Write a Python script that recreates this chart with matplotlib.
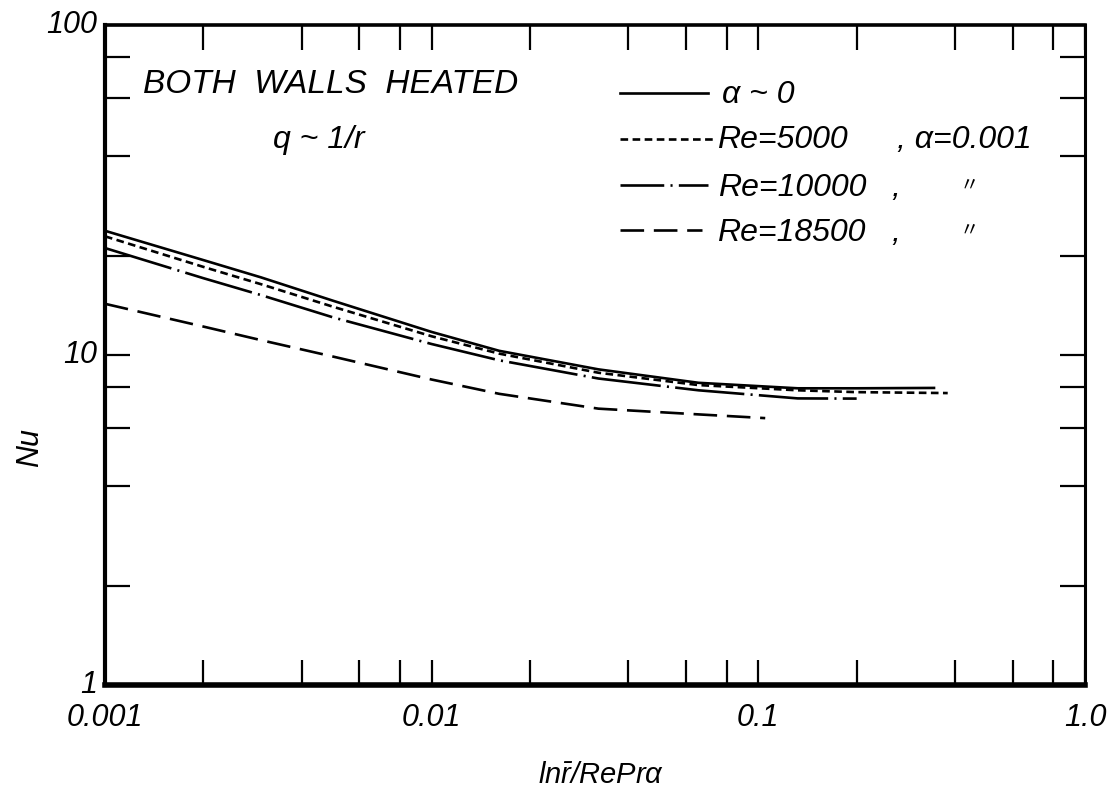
import matplotlib
matplotlib.use("Agg")
import matplotlib.pyplot as plt
from matplotlib import font_manager
from matplotlib.ticker import LogLocator, NullFormatter, FixedLocator

_names = {f.name for f in font_manager.fontManager.ttflist}
FONT = 'Liberation Sans' if 'Liberation Sans' in _names else 'DejaVu Sans'
plt.rcParams['font.family'] = [FONT, 'DejaVu Sans']
plt.rcParams['font.style'] = 'italic'
plt.rcParams['mathtext.fontset'] = 'custom'
plt.rcParams['mathtext.it'] = FONT + ':italic'
plt.rcParams['mathtext.rm'] = FONT + ':italic'
plt.rcParams['lines.scale_dashes'] = False

# ---- data ----
x_alpha0 = [0.001, 0.002, 0.003, 0.005, 0.01, 0.0161, 0.0324, 0.0656, 0.132, 0.2, 0.345]
nu_alpha0 = [23.8, 19.4, 17.2, 14.6, 11.75, 10.3, 9.05, 8.24, 7.93, 7.93, 7.95]

x_re5000 = [0.001, 0.002, 0.003, 0.005, 0.01, 0.0161, 0.0324, 0.0656, 0.132, 0.2, 0.38]
nu_re5000 = [22.9, 18.5, 16.4, 14.0, 11.4, 10.1, 8.84, 8.11, 7.82, 7.72, 7.67]

x_re10000 = [0.001, 0.002, 0.003, 0.005, 0.01, 0.0161, 0.0324, 0.0656, 0.132, 0.2]
nu_re10000 = [21.1, 17.1, 15.2, 13.0, 10.8, 9.64, 8.49, 7.82, 7.39, 7.38]

x_re18500 = [0.001, 0.002, 0.003, 0.005, 0.01, 0.0161, 0.0324, 0.0656, 0.105]
nu_re18500 = [14.3, 12.2, 11.1, 9.89, 8.43, 7.63, 6.88, 6.61, 6.44]

x_tick_vals = [0.001, 0.01, 0.1, 1.0]
x_tick_labels = ['0.001', '0.01', '0.1', '1.0']
y_tick_vals = [1, 10, 100]
y_tick_labels = ['1', '10', '100']

legend_labels = ['\u03b1 ~ 0', 'Re=5000', 'Re=10000', 'Re=18500']
legend_suffix = [', \u03b1=0.001', ',', ',']

# ---- styles ----
lw = 1.9
st_solid = dict(color='black', lw=lw, linestyle='-')
st_dash = dict(color='black', lw=lw, linestyle=(0, (5.5, 3.2)))
st_dashdot = dict(color='black', lw=lw, linestyle=(0, (50, 4.5, 1.5, 4.5)))
st_long = dict(color='black', lw=lw, linestyle=(0, (17, 7)))

fig = plt.figure(figsize=(11.19, 7.92), dpi=100)
ax = fig.add_axes([0.0938, 0.135, 0.8758, 0.8334])

ax.plot(x_alpha0, nu_alpha0, **st_solid)
ax.plot(x_re5000, nu_re5000, **st_dash)
ax.plot(x_re10000, nu_re10000, **st_dashdot)
ax.plot(x_re18500, nu_re18500, **st_long)

ax.set_xscale('log')
ax.set_yscale('log')
ax.set_xlim(0.001, 1.0)
ax.set_ylim(1, 100)

for axis in (ax.xaxis, ax.yaxis):
    axis.set_major_locator(FixedLocator([]))
    axis.set_minor_locator(LogLocator(base=10, subs=(2, 4, 6, 8, 10), numticks=20))
    axis.set_minor_formatter(NullFormatter())
ax.tick_params(which='minor', direction='in', length=18, width=1.6,
               top=True, right=True, bottom=True, left=True)

for s, w in zip(['left', 'bottom', 'top', 'right'], [3.0, 4.0, 2.6, 2.2]):
    ax.spines[s].set_linewidth(w)

TS = 22
for xv, lab in zip(x_tick_vals, x_tick_labels):
    ax.text(xv, -0.05, lab, transform=ax.get_xaxis_transform(), ha='center', va='center',
            fontsize=TS)
for yv, lab in zip(y_tick_vals, y_tick_labels):
    ax.text(-0.008, yv, lab, transform=ax.get_yaxis_transform(), ha='right', va='center',
            fontsize=TS)

fig.text(0.537, 0.022, r'ln$\bar{r}$/RePr' + '\u03b1',
         ha='center', va='center', fontsize=21)
fig.text(0.027, 0.435, 'Nu', ha='center', va='center', rotation=90, fontsize=22)

LS = 23
ax.text(0.039, 0.897, 'BOTH  WALLS  HEATED', transform=ax.transAxes, fontsize=24,
        ha='left', va='baseline')
ax.text(0.171, 0.814, 'q ~ 1/r', transform=ax.transAxes, fontsize=LS,
        ha='left', va='baseline')

# legend (manual)
leg_y = [0.897, 0.827, 0.758, 0.689]
leg_base = [0.882, 0.814, 0.741, 0.673]
leg_x0 = 0.5255
leg_x1 = [0.615, 0.620, 0.615, 0.609]
leg_styles = [st_solid, st_dash,
              dict(st_dashdot, linestyle=(18.5, (50, 4.5, 1.5, 4.5))), st_long]
for yy, x1, st in zip(leg_y, leg_x1, leg_styles):
    ax.plot([leg_x0, x1], [yy, yy], transform=ax.transAxes, **st)

leg_text_x = [0.630, 0.6245, 0.6255, 0.6245]
for tx, yb, lab in zip(leg_text_x, leg_base, legend_labels):
    ax.text(tx, yb, lab, transform=ax.transAxes, fontsize=LS, ha='left', va='baseline')
for tx, yb, suf in zip([0.808, 0.803, 0.803], leg_base[1:], legend_suffix):
    ax.text(tx, yb, suf, transform=ax.transAxes, fontsize=LS, ha='left', va='baseline')
for yy in leg_y[2:]:
    ax.text(0.882, yy, '\u3003', transform=ax.transAxes, fontsize=14,
            family=['Noto Sans CJK JP', 'DejaVu Sans'], style='normal',
            ha='center', va='center')

fig.savefig('out.png', dpi=100)
